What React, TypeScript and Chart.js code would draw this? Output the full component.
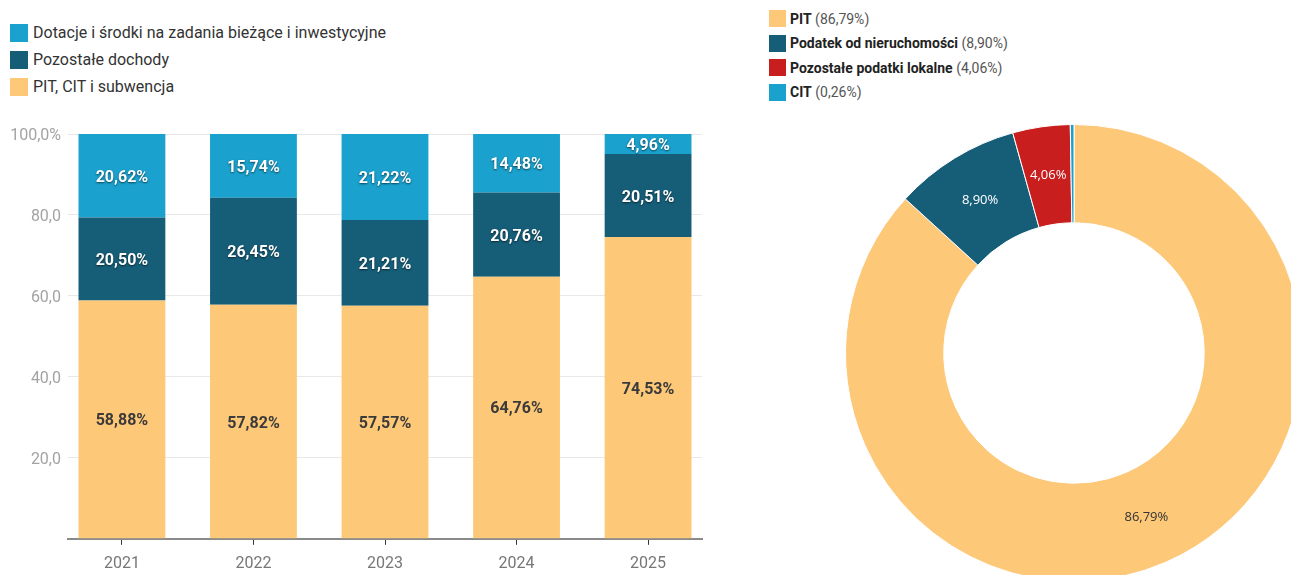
import React, { useEffect, useRef } from "react";
import { Chart, registerables } from "chart.js";

Chart.register(...registerables);

const years = ["2021", "2022", "2023", "2024", "2025"];
const pitCitSubwencja = [58.88, 57.82, 57.57, 64.76, 74.53];
const pozostaleDochody = [20.5, 26.45, 21.21, 20.76, 20.51];
const dotacje = [20.62, 15.74, 21.22, 14.48, 4.96];
const barSeriesNames = [
  "Dotacje i środki na zadania bieżące i inwestycyjne",
  "Pozostałe dochody",
  "PIT, CIT i subwencja",
];
const yTicks = [0, 20, 40, 60, 80, 100];

const pieLabels = ["PIT", "Podatek od nieruchomości", "Pozostałe podatki lokalne", "CIT"];
const pieValues = [86.79, 8.9, 4.06, 0.26];

const C_LIGHT = "#1aa1cd";
const C_TEAL = "#165e78";
const C_YELLOW = "#fdc878";
const C_RED = "#c81e1e";

const fmt = (v: number) => v.toFixed(2).replace(".", ",") + "%";

const barLabelPlugin = {
  id: "barLabels",
  afterDatasetsDraw(chart: any) {
    const ctx = chart.ctx;
    chart.data.datasets.forEach((ds: any, di: number) => {
      const meta = chart.getDatasetMeta(di);
      meta.data.forEach((el: any, i: number) => {
        const v = ds.data[i].y;
        const props = el.getProps(["x", "y", "base"], true);
        const cy = (props.y + props.base) / 2 + 2;
        ctx.save();
        ctx.font = "bold 16px Roboto";
        ctx.textAlign = "center";
        ctx.textBaseline = "middle";
        if (ds.labelDark) {
          ctx.fillStyle = "#3a3a3a";
        } else {
          ctx.fillStyle = "#ffffff";
          ctx.shadowColor = "rgba(0,0,0,0.6)";
          ctx.shadowBlur = 2;
          ctx.shadowOffsetX = 0;
          ctx.shadowOffsetY = 1;
        }
        ctx.fillText(fmt(v), props.x, cy);
        ctx.restore();
      });
    });
  },
};

const pieLabelPlugin = {
  id: "pieLabels",
  afterDatasetsDraw(chart: any) {
    const ctx = chart.ctx;
    const meta = chart.getDatasetMeta(0);
    const ds = chart.data.datasets[0];
    meta.data.forEach((arc: any, i: number) => {
      const v = ds.data[i];
      if (v < 1) return;
      const p = arc.tooltipPosition(true);
      ctx.save();
      ctx.font = "13px 'Open Sans'";
      ctx.textAlign = "center";
      ctx.textBaseline = "middle";
      ctx.fillStyle = i === 0 ? "#333333" : "#ffffff";
      ctx.fillText(fmt(v), p.x, p.y);
      ctx.restore();
    });
  },
};

function BarChart() {
  const ref = useRef<HTMLCanvasElement>(null);
  useEffect(() => {
    const mk = (vals: number[]) => vals.map((y, i) => ({ x: i, y }));
    const chart = new Chart(ref.current!, {
      type: "bar",
      data: {
        datasets: [
          { label: barSeriesNames[2], data: mk(pitCitSubwencja), backgroundColor: C_YELLOW, labelDark: true } as any,
          { label: barSeriesNames[1], data: mk(pozostaleDochody), backgroundColor: C_TEAL } as any,
          { label: barSeriesNames[0], data: mk(dotacje), backgroundColor: C_LIGHT } as any,
        ],
      },
      options: {
        animation: false,
        responsive: false,
        events: [],
        layout: { padding: { left: 0, right: 18, top: 24, bottom: 0 } },
        datasets: { bar: { barPercentage: 0.66, categoryPercentage: 1 } },
        plugins: { legend: { display: false }, tooltip: { enabled: false } },
        scales: {
          x: {
            type: "linear",
            stacked: true,
            offset: false,
            min: -0.41,
            max: 4.41,
            grid: { offset: false, drawOnChartArea: false, drawTicks: true, tickLength: 6, color: "#333" },
            border: { display: true, color: "#8a8a8a", width: 2 },
            ticks: {
              stepSize: 1,
              includeBounds: false,
              padding: 10,
              color: "#777",
              font: { family: "Roboto", size: 16 },
              callback: (v: any) => (Number.isInteger(v) && years[v] ? years[v] : ""),
            },
          },
          y: {
            stacked: true,
            min: 0,
            max: 100,
            afterFit: (s: any) => {
              s.width = 68;
            },
            afterBuildTicks: (s: any) => {
              s.ticks = yTicks.map((value) => ({ value }));
            },
            grid: { color: "#e8e8e8", drawTicks: false },
            border: { display: false },
            ticks: {
              padding: 7,
              labelOffset: 2,
              color: "#a3a3a3",
              font: { family: "Roboto", size: 16 },
              callback: (v: any) => (v === 0 ? "" : v === 100 ? "100,0%" : Number(v).toFixed(1).replace(".", ",")),
            },
          },
        },
      } as any,
      plugins: [barLabelPlugin],
    });
    return () => chart.destroy();
  }, []);
  return <canvas ref={ref} width={720} height={474} style={{ position: "absolute", left: 0, top: 110 }} />;
}

function PieChart() {
  const ref = useRef<HTMLCanvasElement>(null);
  useEffect(() => {
    const chart = new Chart(ref.current!, {
      type: "doughnut",
      data: {
        labels: pieLabels,
        datasets: [
          {
            data: pieValues,
            backgroundColor: [C_YELLOW, C_TEAL, C_RED, C_LIGHT],
            borderColor: "#ffffff",
            borderWidth: 1,
          },
        ],
      },
      options: {
        animation: false,
        responsive: false,
        events: [],
        cutout: "57%",
        layout: { padding: 0 },
        plugins: { legend: { display: false }, tooltip: { enabled: false } },
      } as any,
      plugins: [pieLabelPlugin],
    });
    return () => chart.destroy();
  }, []);
  return <canvas ref={ref} width={458} height={458} style={{ position: "absolute", left: 845, top: 124 }} />;
}

const legendLeftColors = [C_LIGHT, C_TEAL, C_YELLOW];
const legendRightColors = [C_YELLOW, C_TEAL, C_RED, C_LIGHT];

export default function App() {
  return (
    <div
      style={{
        position: "fixed",
        left: 0,
        top: 0,
        width: 1291,
        height: 575,
        overflow: "hidden",
        background: "#fff",
        fontFamily: "Roboto, sans-serif",
      }}
    >
      {barSeriesNames.map((name, i) => (
        <div key={name} style={{ position: "absolute", left: 10, top: 23 + i * 27, height: 19, display: "flex", alignItems: "center" }}>
          <span style={{ width: 18, height: 18, background: legendLeftColors[i], display: "inline-block", marginRight: 5 }} />
          <span style={{ fontSize: 16, color: "#333", whiteSpace: "nowrap" }}>{name}</span>
        </div>
      ))}
      {pieLabels.map((name, i) => (
        <div key={name} style={{ position: "absolute", left: 769, top: 10 + i * 24.5, height: 17, display: "flex", alignItems: "center" }}>
          <span style={{ width: 17, height: 17, background: legendRightColors[i], display: "inline-block", marginRight: 4 }} />
          <span style={{ fontSize: 14, color: "#222", whiteSpace: "nowrap" }}>
            <b>{name}</b> <span style={{ color: "#555" }}>({fmt(pieValues[i])})</span>
          </span>
        </div>
      ))}
      <BarChart />
      <PieChart />
    </div>
  );
}
